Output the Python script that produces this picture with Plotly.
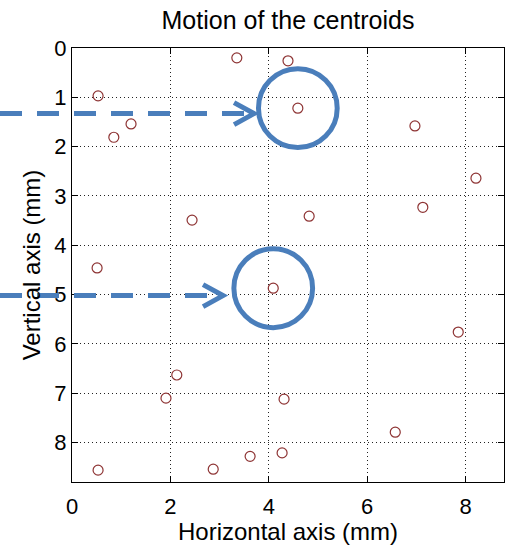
import plotly.graph_objects as go

# Centroid positions (mm)
horizontal_mm = [3.35, 4.39, 0.53, 4.59, 1.20, 0.85, 6.97, 8.21, 2.44, 4.82, 7.13,
                 0.51, 4.09, 7.85, 2.13, 1.91, 4.31, 6.57, 4.27, 3.62, 2.87, 0.53]
vertical_mm = [0.20, 0.26, 0.97, 1.22, 1.54, 1.81, 1.58, 2.64, 3.49, 3.41, 3.23,
               4.46, 4.87, 5.76, 6.63, 7.10, 7.12, 7.79, 8.21, 8.28, 8.54, 8.56]

tick_values = [0, 2, 4, 6, 8]
y_tick_values = [0, 1, 2, 3, 4, 5, 6, 7, 8]

# Highlighted centroids (indices into the lists above) and their pointer rows
highlight_idx = [3, 12]
pointer_rows = [1.33, 5.02]
pointer_tips = [3.70, 3.07]
ring_radius = 0.80

X_MAX = 8.78
Y_MAX = 8.80
W, H = 508, 545
M_L, M_R, M_T, M_B = 72, 4, 48, 63
plot_w = W - M_L - M_R
plot_h = H - M_T - M_B

BLUE = "#4A7EBB"
FONT = "Liberation Sans, Arial, sans-serif"


def to_paper_x(x):
    return x / X_MAX


def to_paper_y(y):
    return 1 - y / Y_MAX


fig = go.Figure()
fig.add_trace(go.Scatter(
    x=horizontal_mm, y=vertical_mm, mode="markers",
    marker=dict(symbol="circle-open", size=10, color="#8E3434",
                line=dict(width=1.2, color="#8E3434")),
    showlegend=False, hoverinfo="x+y",
))

shapes = []
for idx in highlight_idx:
    cx, cy = horizontal_mm[idx], vertical_mm[idx]
    shapes.append(dict(type="circle", xref="x", yref="y",
                       x0=cx - ring_radius, x1=cx + ring_radius,
                       y0=cy - ring_radius, y1=cy + ring_radius,
                       line=dict(color=BLUE, width=5), layer="above"))

px_to_paper_x = 1.0 / plot_w
px_to_paper_y = 1.0 / plot_h
for row, tip in zip(pointer_rows, pointer_tips):
    py = to_paper_y(row)
    tx = to_paper_x(tip)
    start = -M_L * px_to_paper_x
    shapes.append(dict(type="line", xref="paper", yref="paper",
                       x0=start, x1=tx - 6 * px_to_paper_x, y0=py, y1=py,
                       line=dict(color=BLUE, width=5, dash="22px,15px"),
                       layer="above"))
    arm_dx = 20 * px_to_paper_x
    arm_dy = 11 * px_to_paper_y
    path = (f"M {tx - arm_dx},{py + arm_dy} L {tx},{py} "
            f"L {tx - arm_dx},{py - arm_dy}")
    shapes.append(dict(type="path", xref="paper", yref="paper", path=path,
                       line=dict(color=BLUE, width=5), layer="above"))

axis_common = dict(
    showline=True, linecolor="black", linewidth=1, mirror="ticks",
    ticks="inside", ticklen=6, tickcolor="black",
    showgrid=True, gridcolor="#222222", gridwidth=1, griddash="1px,3px",
    zeroline=False, tickfont=dict(family=FONT, size=22, color="black"),
)

fig.update_layout(
    width=W, height=H,
    margin=dict(l=M_L, r=M_R, t=M_T, b=M_B),
    paper_bgcolor="white", plot_bgcolor="white",
    title=dict(text="Motion of the centroids", x=(M_L + plot_w / 2) / W,
               xanchor="center", y=1 - 20 / H, yanchor="middle",
               font=dict(family=FONT, size=25, color="black")),
    xaxis=dict(range=[0, X_MAX], tickvals=tick_values, ticklabelstandoff=5,
               title=dict(text="Horizontal axis (mm)", standoff=6,
                          font=dict(family=FONT, size=24, color="black")),
               **axis_common),
    yaxis=dict(range=[Y_MAX, 0], tickvals=y_tick_values,
               title=dict(text="Vertical axis (mm)", standoff=6,
                          font=dict(family=FONT, size=24, color="black")),
               **axis_common),
    shapes=shapes,
    showlegend=False,
)

fig.write_html("out.html")
